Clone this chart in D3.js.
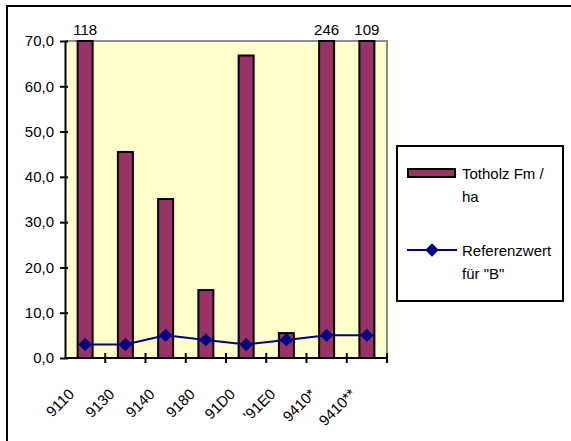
<!DOCTYPE html>
<html>
<head>
<meta charset="utf-8">
<script src="https://cdn.jsdelivr.net/npm/d3@7"></script>
<style>
  html, body { margin: 0; padding: 0; background: #fff; }
  svg { display: block; font-family: "Liberation Sans", Arial, sans-serif; }
</style>
</head>
<body>
<svg id="chart" width="571" height="441"></svg>
<script>
// Habitat type codes on the category axis
const categories = ["9110", "9130", "9140", "9180", "91D0", "'91E0", "9410*", "9410**"];
// Dead wood volume (Fm/ha) per habitat type
const totholz = [118, 45.5, 35.1, 15.0, 66.8, 5.5, 246, 109];
// Reference value for condition "B"
const referenz = [3, 3, 5, 4, 3, 4, 5, 5];
// Value-axis ticks
const yTicks = [0, 10, 20, 30, 40, 50, 60, 70];
const yMax = 70;

const seriesNames = ["Totholz Fm /\nha", "Referenzwert\nfür \"B\""];

const FONT = "'Liberation Sans', Arial, sans-serif";
const FS = 15;

const svg = d3.select("#chart");

// Outer chart frame (extends beyond the visible area on right and bottom)
svg.append("rect")
  .attr("x", 7).attr("y", 6).attr("width", 620).attr("height", 500)
  .attr("fill", "#fff").attr("stroke", "#000").attr("stroke-width", 2);

const plot = { left: 65, right: 387, top: 41, bottom: 358 };

const x = d3.scaleBand().domain(categories).range([plot.left, plot.right]).paddingInner(0).paddingOuter(0);
const y = d3.scaleLinear().domain([0, yMax]).range([plot.bottom, plot.top]);

// Plot area background and gray border (top and right)
svg.append("rect")
  .attr("x", plot.left).attr("y", plot.top)
  .attr("width", plot.right - plot.left).attr("height", plot.bottom - plot.top)
  .attr("fill", "#FFFFCC");
svg.append("path")
  .attr("d", `M${plot.left},${plot.top}H${plot.right}V${plot.bottom}`)
  .attr("fill", "none").attr("stroke", "#8c8c8c").attr("stroke-width", 2);

// Bars, clipped at the top of the value axis
const barW = 15;
svg.append("g").selectAll("rect").data(categories).join("rect")
  .attr("x", d => x(d) + x.bandwidth() / 2 - barW / 2)
  .attr("y", (d, i) => y(Math.min(totholz[i], yMax)))
  .attr("width", barW)
  .attr("height", (d, i) => y(0) - y(Math.min(totholz[i], yMax)))
  .attr("fill", "#993366").attr("stroke", "#000").attr("stroke-width", 2);

// Value labels for bars exceeding the axis maximum
svg.append("g").selectAll("text").data(categories.filter((d, i) => totholz[i] > yMax)).join("text")
  .attr("x", d => x(d) + x.bandwidth() / 2)
  .attr("y", plot.top - 6)
  .attr("text-anchor", "middle")
  .attr("font-size", FS)
  .text(d => totholz[categories.indexOf(d)]);

// Reference line with diamond markers
const cx = d => x(d) + x.bandwidth() / 2;
svg.append("path")
  .datum(categories)
  .attr("d", d3.line().x(cx).y((d, i) => y(referenz[i])))
  .attr("fill", "none").attr("stroke", "#000080").attr("stroke-width", 2);
const diamond = d3.symbol().type(d3.symbolDiamond2).size(115);
svg.append("g").selectAll("path").data(categories).join("path")
  .attr("transform", (d, i) => `translate(${cx(d)},${y(referenz[i])})`)
  .attr("d", diamond)
  .attr("fill", "#000080");

// Value axis
const yAxis = d3.axisLeft(y).tickValues(yTicks)
  .tickFormat(d => d3.format(".1f")(d).replace(".", ","))
  .tickSizeInner(4).tickSizeOuter(0).tickPadding(6);
const gy = svg.append("g").attr("transform", `translate(${plot.left},0)`).call(yAxis);
gy.attr("font-size", null).attr("font-family", null);
gy.select(".domain").attr("stroke", "#000").attr("stroke-width", 2);
gy.selectAll(".tick line").attr("x2", -5).attr("x1", 3).attr("stroke", "#000").attr("stroke-width", 2);
gy.selectAll(".tick text").attr("font-size", FS).attr("fill", "#000")
  .attr("font-family", FONT).attr("x", -11);

// Category axis with ticks on band boundaries
const xAxisG = svg.append("g");
xAxisG.append("line")
  .attr("x1", plot.left).attr("x2", plot.right).attr("y1", plot.bottom).attr("y2", plot.bottom)
  .attr("stroke", "#000").attr("stroke-width", 2);
const boundaries = categories.map(d => x(d)).concat([plot.right]);
xAxisG.selectAll("line.tick").data(boundaries.slice(1)).join("line")
  .attr("class", "tick")
  .attr("x1", d => d).attr("x2", d => d)
  .attr("y1", plot.bottom - 5).attr("y2", plot.bottom + 5)
  .attr("stroke", "#000").attr("stroke-width", 2);
xAxisG.selectAll("text").data(categories).join("text")
  .attr("transform", d => `translate(${cx(d) - 10},${plot.bottom + 37}) rotate(-45)`)
  .attr("text-anchor", "end")
  .attr("font-size", FS)
  .text(d => d);

// Legend
const lg = svg.append("g");
lg.append("rect")
  .attr("x", 397).attr("y", 146).attr("width", 166).attr("height", 155)
  .attr("fill", "#fff").attr("stroke", "#000").attr("stroke-width", 2);
lg.append("rect")
  .attr("x", 408).attr("y", 169).attr("width", 47).attr("height", 8)
  .attr("fill", "#993366").attr("stroke", "#000").attr("stroke-width", 2);
lg.append("line")
  .attr("x1", 407).attr("x2", 457).attr("y1", 250).attr("y2", 250)
  .attr("stroke", "#000080").attr("stroke-width", 2);
lg.append("path")
  .attr("transform", "translate(432,250)")
  .attr("d", diamond).attr("fill", "#000080");
const legendY = [179, 256];
seriesNames.forEach((name, k) => {
  const t = lg.append("text").attr("x", 462).attr("y", legendY[k]).attr("font-size", FS);
  name.split("\n").forEach((line, j) => {
    t.append("tspan").attr("x", 462).attr("dy", j === 0 ? 0 : 23).text(line);
  });
});
</script>
</body>
</html>
